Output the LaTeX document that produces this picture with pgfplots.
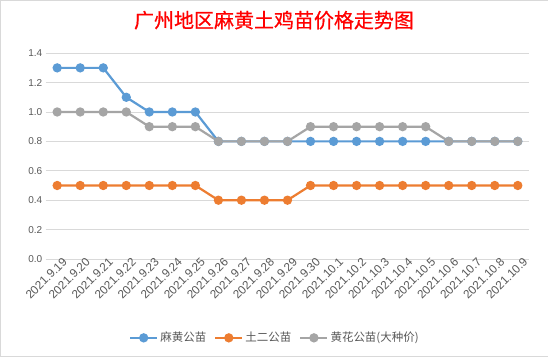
\documentclass[border=0pt]{standalone}
\usepackage{pgfplots}
\pgfplotsset{compat=1.18}
\usepackage{fontspec}
\setmainfont{Liberation Sans}
\newfontfamily\cjk{Noto Sans CJK SC}
\newfontfamily\cjktitle[FakeBold=0.6]{Noto Sans CJK SC}
\definecolor{cblue}{HTML}{5B9BD5}
\definecolor{corange}{HTML}{ED7D31}
\definecolor{cgray}{HTML}{A5A5A5}
\definecolor{ctext}{HTML}{595959}
\definecolor{cgrid}{HTML}{D9D9D9}
\begin{document}
\begin{tikzpicture}
\path[use as bounding box, fill=white, draw=cgrid] (0,0) rectangle (548bp,356bp);
\node[text=red, font=\cjktitle\fontsize{20bp}{24bp}\selectfont] at (274bp,336bp) {广州地区麻黄土鸡苗价格走势图};
\begin{axis}[
  at={(45.5bp,97bp)}, anchor=south west,
  scale only axis, width=484bp, height=206bp,
  xmin=-0.5, xmax=20.5, ymin=0, ymax=1.4,
  ytick={0,0.2,0.4,0.6,0.8,1.0,1.2,1.4},
  xtick={0,...,20},
  xticklabels={2021.9.19,2021.9.20,2021.9.21,2021.9.22,2021.9.23,2021.9.24,2021.9.25,2021.9.26,2021.9.27,2021.9.28,2021.9.29,2021.9.30,2021.10.1,2021.10.2,2021.10.3,2021.10.4,2021.10.5,2021.10.6,2021.10.7,2021.10.8,2021.10.9},
  /pgf/number format/assume math mode=true,
  yticklabel style={/pgf/number format/fixed, /pgf/number format/fixed zerofill, /pgf/number format/precision=1, font=\fontsize{10bp}{12bp}\selectfont, text=ctext},
  xticklabel style={rotate=45, anchor=east, xshift=6bp, yshift=-6bp, font=\fontsize{11.8bp}{12bp}\selectfont, text=ctext, inner sep=1bp},
  axis line style={draw=none},
  major tick length=0pt,
  ymajorgrids, grid style={cgrid, line width=0.75bp},
  clip=false,
  every axis plot/.append style={line width=2.2bp, mark=*, mark size=3.5bp},
  legend style={at={(0.474,-0.383)}, anchor=center, draw=none, legend columns=-1,
    font=\cjk\fontsize{11.5bp}{13bp}\selectfont, text=ctext,
    /tikz/every even column/.append style={column sep=6bp}},
  legend image code/.code={\draw[mark repeat=2,mark phase=2,#1] plot coordinates {(0bp,0bp) (13.5bp,0bp) (27bp,0bp)};},
]
\addplot[cblue, mark options={fill=cblue}] coordinates {
(0,1.3)(1,1.3)(2,1.3)(3,1.1)(4,1.0)(5,1.0)(6,1.0)(7,0.8)(8,0.8)(9,0.8)(10,0.8)
(11,0.8)(12,0.8)(13,0.8)(14,0.8)(15,0.8)(16,0.8)(17,0.8)(18,0.8)(19,0.8)(20,0.8)};
\addlegendentry{麻黄公苗}
\addplot[corange, mark options={fill=corange}] coordinates {
(0,0.5)(1,0.5)(2,0.5)(3,0.5)(4,0.5)(5,0.5)(6,0.5)(7,0.4)(8,0.4)(9,0.4)(10,0.4)
(11,0.5)(12,0.5)(13,0.5)(14,0.5)(15,0.5)(16,0.5)(17,0.5)(18,0.5)(19,0.5)(20,0.5)};
\addlegendentry{土二公苗}
\addplot[cgray, mark options={fill=cgray}] coordinates {
(0,1.0)(1,1.0)(2,1.0)(3,1.0)(4,0.9)(5,0.9)(6,0.9)(7,0.8)(8,0.8)(9,0.8)(10,0.8)
(11,0.9)(12,0.9)(13,0.9)(14,0.9)(15,0.9)(16,0.9)(17,0.8)(18,0.8)(19,0.8)(20,0.8)};
\addlegendentry{黄花公苗(大种价)}
\end{axis}
\end{tikzpicture}
\end{document}
